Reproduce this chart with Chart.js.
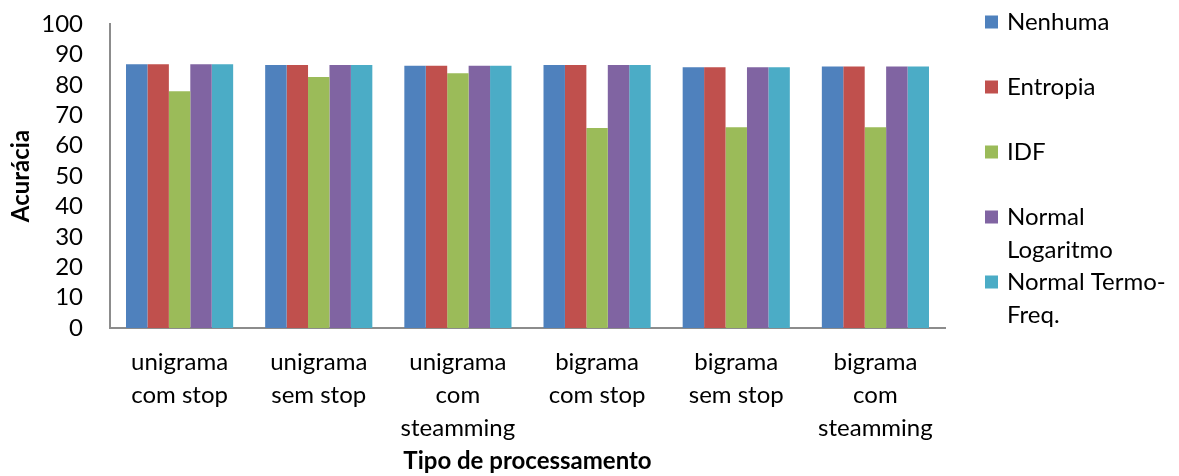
<!DOCTYPE html>
<html>
<head>
<meta charset="utf-8">
<script src="https://cdn.jsdelivr.net/npm/chart.js@4/dist/chart.umd.min.js"></script>
<style>
  html, body { margin: 0; padding: 0; background: #fff; }
</style>
</head>
<body>
<canvas id="myCanvas" width="1179" height="476"></canvas>
<script>
const categories = [
  ["unigrama", "com stop"],
  ["unigrama", "sem stop"],
  ["unigrama", "com", "steamming"],
  ["bigrama", "com stop"],
  ["bigrama", "sem stop"],
  ["bigrama", "com", "steamming"],
];

const nenhuma = [86.8, 86.5, 86.3, 86.5, 85.8, 86.0];
const entropia = [86.8, 86.5, 86.3, 86.5, 85.8, 86.0];
const idf = [77.9, 82.6, 83.8, 65.8, 66.0, 66.0];
const normalLogaritmo = [86.8, 86.5, 86.3, 86.5, 85.8, 86.0];
const normalTermoFreq = [86.8, 86.5, 86.3, 86.5, 85.8, 86.0];

const seriesNames = [
  ["Nenhuma"],
  ["Entropia"],
  ["IDF"],
  ["Normal", "Logaritmo"],
  ["Normal Termo-", "Freq."],
];
const seriesColors = ["#4f81bd", "#c0504d", "#9bbb59", "#8064a2", "#4bacc6"];
const seriesValues = [nenhuma, entropia, idf, normalLogaritmo, normalTermoFreq];

const yMin = 0;
const yMax = 100;
const yStep = 10;

const FONT = "Lato, 'Open Sans', sans-serif";
const AXIS_GREY = "#8c8c8c";

// legend on the right, each entry may wrap onto two lines
const sideLegend = {
  id: "sideLegend",
  afterDraw(chart) {
    const ctx = chart.ctx;
    const x0 = 985;
    const box = 13;
    const lineGap = 33;
    const itemGap = 65;
    ctx.save();
    ctx.font = "24px " + FONT;
    ctx.textBaseline = "middle";
    ctx.textAlign = "left";
    chart.data.datasets.forEach((ds, i) => {
      const y = 22 + i * itemGap;
      ctx.fillStyle = ds.backgroundColor;
      ctx.fillRect(x0, y - box / 2, box, box);
      ctx.fillStyle = "#000";
      ds.legendLines.forEach((line, j) => {
        ctx.fillText(line, x0 + 22, y + j * lineGap);
      });
    });
    ctx.restore();
  },
};

const data = {
  labels: categories,
  datasets: seriesValues.map((values, i) => ({
    label: seriesNames[i].join(" "),
    legendLines: seriesNames[i],
    data: values,
    backgroundColor: seriesColors[i],
    borderWidth: 0,
    categoryPercentage: 0.77,
    barPercentage: 1,
  })),
};

new Chart(document.getElementById("myCanvas"), {
  type: "bar",
  data,
  plugins: [sideLegend],
  options: {
    responsive: false,
    animation: false,
    layout: {
      padding: { top: 24, right: 234, bottom: 0, left: 0 },
    },
    plugins: {
      legend: { display: false },
      tooltip: { enabled: false },
    },
    scales: {
      x: {
        grid: { display: false, drawTicks: false },
        border: { display: true, color: AXIS_GREY, width: 2 },
        ticks: {
          color: "#000",
          autoSkip: false,
          maxRotation: 0,
          padding: 18,
          font: { family: FONT, size: 24, lineHeight: 33 / 24 },
        },
        title: {
          display: true,
          text: "Tipo de processamento",
          color: "#000",
          padding: { top: 0, bottom: 0 },
          font: { family: FONT, size: 24, weight: "bold" },
        },
        afterFit(scale) {
          scale.height = 148;
        },
      },
      y: {
        min: yMin,
        max: yMax,
        grid: { display: false, drawTicks: false },
        border: { display: true, color: AXIS_GREY, width: 2 },
        ticks: {
          stepSize: yStep,
          autoSkip: false,
          color: "#000",
          padding: 27,
          font: { family: FONT, size: 24 },
        },
        title: {
          display: true,
          text: "Acurácia",
          color: "#000",
          padding: { top: 7, bottom: 0 },
          font: { family: FONT, size: 24, weight: "bold" },
        },
        afterFit(scale) {
          // fixed axis width; the tick padding should not push the plot down
          scale.width = 110;
          scale.paddingTop = 0;
          scale.paddingBottom = 0;
        },
      },
    },
  },
});
</script>
</body>
</html>
